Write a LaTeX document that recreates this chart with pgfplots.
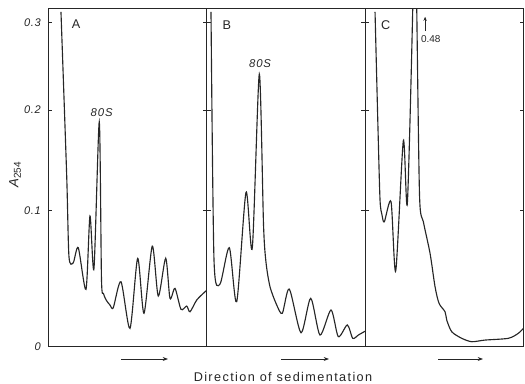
\documentclass[border=0pt]{standalone}
\usepackage{pgfplots}
\pgfplotsset{compat=1.18}
\usetikzlibrary{arrows.meta}
\usepackage{fontspec}
\setmainfont{Liberation Sans}
\definecolor{ink}{gray}{0.15}

\pgfplotsset{
  panel/.style={
    scale only axis, width=118.9pt, height=253.8pt, anchor=south west,
    ymin=0, ymax=0.316,
    y coord trafo/.code={\pgfmathparse{(##1)<0.1 ? 1.36*(##1) : ((##1)<0.2 ? 0.136+1.007*((##1)-0.1) : 0.2367+0.877*((##1)-0.2))}},
    y coord inv trafo/.code={\pgfmathparse{(##1)<0.136 ? (##1)/1.36 : ((##1)<0.2367 ? 0.1+((##1)-0.136)/1.007 : 0.2+((##1)-0.2367)/0.877)}},
    xtick=\empty, ytick={0,0.1,0.2,0.3}, yticklabels={},
    tick align=inside, ytick pos=both, major tick length=3pt,
    axis line style={ink, line width=0.7pt},
    every tick/.style={ink, line width=0.6pt},
    clip=true,
  },
  curve/.style={ink, line width=0.85pt, smooth, tension=0.45},
}

\begin{document}
\begin{tikzpicture}
\useasboundingbox (0,0) rectangle (393.75pt,287.25pt);

% Panel A
\begin{axis}[panel, at={(36.2pt,27.2pt)}, xmin=48.3, xmax=206.8,
  yticklabels={0,0.1,0.2,0.3},
  yticklabel style={font=\itshape\fontsize{8.3}{9}\selectfont\addfontfeatures{LetterSpace=6}, text=ink, xshift=-2pt}]
\addplot[curve] coordinates {
(61,0.312) (66.7,0.1355) (69,0.0662) (73.3,0.0618) (78.3,0.0728) (86,0.0422)
(90,0.0961) (94,0.0576) (99.3,0.1881) (101.5,0.050) (103.5,0.039) (106.5,0.0340) (110,0.0307)
(113.3,0.0287) (121,0.0478) (130,0.0135) (137.7,0.065) (144,0.0246) (152.3,0.074)
(158.3,0.0373) (165.7,0.065) (170,0.0356) (175,0.0429) (181,0.0275) (186.7,0.0299)
(190,0.0257) (196.7,0.0343) (205,0.0404) (207,0.0417)
};
\node[font=\fontsize{9.5}{10}\selectfont, text=ink] at (rel axis cs:0.175,0.952) {A};
\node[font=\itshape\fontsize{8.5}{9}\selectfont\addfontfeatures{LetterSpace=8}, text=ink] at (rel axis cs:0.337,0.691) {80S};
\end{axis}

% Panel B
\begin{axis}[panel, at={(155.1pt,27.2pt)}, xmin=206.8, xmax=365.3]
\addplot[curve] coordinates {
(211,0.312) (214,0.0638) (220,0.0461) (229.3,0.0728) (236.7,0.0331) (246,0.1183)
(252.3,0.0728) (259.3,0.241) (263.5,0.090) (266,0.062) (270,0.0441) (276.7,0.0307) (282.3,0.0246)
(289.3,0.0424) (301,0.0103) (310.7,0.0356) (320,0.0086) (331,0.027) (338.3,0.0074)
(347.3,0.016) (352.7,0.0062) (358.3,0.0086) (366,0.0118)
};
\node[font=\fontsize{9.5}{10}\selectfont, text=ink] at (rel axis cs:0.126,0.951) {B};
\node[font=\itshape\fontsize{8.5}{9}\selectfont\addfontfeatures{LetterSpace=8}, text=ink] at (rel axis cs:0.336,0.838) {80S};
\end{axis}

% Panel C
\begin{axis}[panel, at={(274.0pt,27.2pt)}, xmin=365.3, xmax=523.8]
\addplot[curve] coordinates {
(375,0.312) (378,0.180) (380,0.1106) (382,0.0968) (384.3,0.0919) (391,0.1089)
(395.7,0.0557) (403.3,0.1695) (407.3,0.1073) (412.7,0.316) (414.7,0.48) (416.7,0.316)
(419.5,0.115) (423.3,0.092) (430,0.0687) (435,0.0441) (439,0.0319) (445,0.0257)
(446.7,0.0196) (451.7,0.011) (461.7,0.0062) (471.7,0.0037) (485,0.0049) (508.3,0.0062)
(518.3,0.0099) (523.3,0.0135)
};
\node[font=\fontsize{9.5}{10}\selectfont, text=ink] at (rel axis cs:0.129,0.951) {C};
\draw[ink, line width=0.6pt, -{Stealth[length=3pt,width=2.5pt]}] (rel axis cs:0.377,0.933) -- (rel axis cs:0.377,0.975);
\node[font=\fontsize{7.5}{8}\selectfont, text=ink] at (rel axis cs:0.413,0.908) {0.48};
\end{axis}

% axis label and direction arrows
\node[rotate=90, text=ink, font=\fontsize{10}{11}\selectfont] at (11.25pt,156pt) {\textit{A}\raisebox{-0.35ex}{\fontsize{7.5}{8}\selectfont 254}};
\foreach \a/\b in {90.75/126, 210.75/246.75, 328.5/362.25}
  \draw[ink, line width=0.7pt, -{Stealth[length=4pt,width=3pt]}] (\a pt,18pt) -- (\b pt,18pt);
\node[text=ink, font=\fontsize{9.5}{10}\selectfont\addfontfeatures{LetterSpace=11}] at (212.25pt,4.8pt) {Direction of sedimentation};
\end{tikzpicture}
\end{document}
